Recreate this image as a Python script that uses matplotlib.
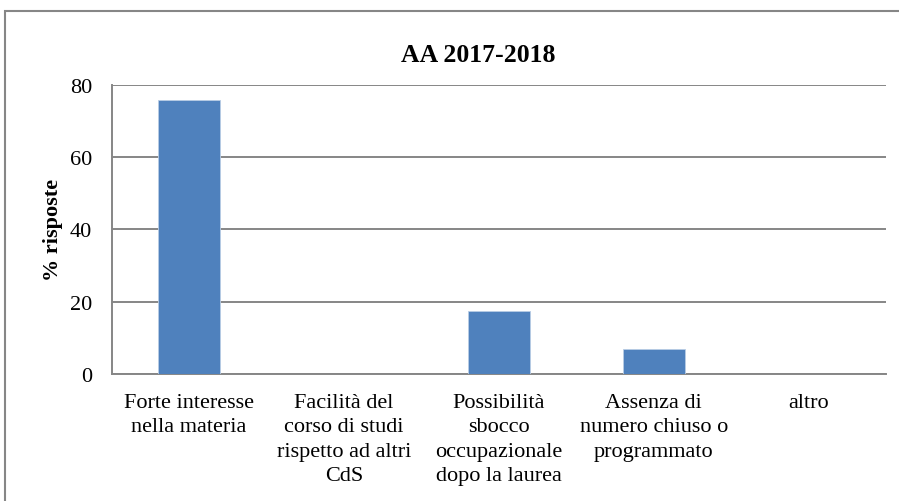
import matplotlib.pyplot as plt
from matplotlib.patches import Rectangle
import numpy as np

plt.rcParams['font.family'] = ['Liberation Serif', 'DejaVu Serif']

categorie = ["Forte interesse\nnella materia",
             "Facilità del\ncorso di studi\nrispetto ad altri\nCdS",
             "Possibilità\nsbocco\noccupazionale\ndopo la laurea",
             "Assenza di\nnumero chiuso o\nprogrammato",
             "altro"]
percentuali = [75.9, 0, 17.4, 6.8, 0]
y_ticks = [0, 20, 40, 60, 80]

grigio = '#868686'

fig = plt.figure(figsize=(8.99, 5.02), dpi=100)
ax = fig.add_axes([111.5/899, 1-375/502, (886-111.5)/899, (375-85.7)/502])

x = np.arange(len(categorie))
ax.bar(x, percentuali, width=0.4, color='#4f81bd', edgecolor='#b9cde5', linewidth=0.6, zorder=3)

ax.set_xlim(-0.5, len(categorie)-0.5)
ax.set_ylim(0, 80)
ax.set_yticks(y_ticks)
ax.set_xticks(x)
ax.set_xticklabels(categorie, fontsize=16, linespacing=1.36)
ax.tick_params(axis='x', length=0, pad=14)
ax.tick_params(axis='y', length=0, pad=14, labelsize=16)
ax.grid(axis='y', color=grigio, linewidth=1.4, zorder=0)

for s in ['top', 'right']:
    ax.spines[s].set_visible(False)
for s in ['left', 'bottom']:
    ax.spines[s].set_color(grigio)
    ax.spines[s].set_linewidth(1.4)

ax.set_ylabel("% risposte", fontsize=16, fontweight='bold', labelpad=5)
fig.text(478/899, 1-55/502, "AA 2017-2018", ha='center', va='center',
         fontsize=18.5, fontweight='bold')

# cornice del grafico (tagliata a destra e in basso)
fig.patches.append(Rectangle((4.5/899, -0.1), 1.2, (502-11.5)/502+0.1,
                             transform=fig.transFigure, fill=False,
                             edgecolor=grigio, linewidth=1.5))

plt.savefig("out.png")
